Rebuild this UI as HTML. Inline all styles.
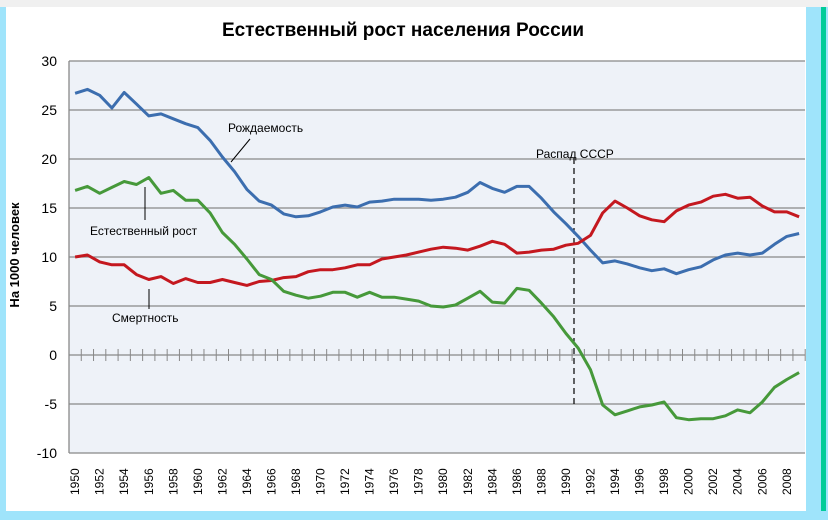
<!DOCTYPE html>
<html><head><meta charset="utf-8"><style>
body{margin:0;width:828px;height:520px;overflow:hidden;background:#fff;font-family:"Liberation Sans","DejaVu Sans",sans-serif}
</style></head><body>
<svg id="s" width="828" height="520" xmlns="http://www.w3.org/2000/svg" style="position:absolute;left:0;top:0">
<rect x="0" y="0" width="828" height="520" fill="#fff"/>
<rect x="0" y="0" width="828" height="7" fill="#f0f0f0"/>
<rect x="0" y="7" width="6" height="513" fill="#9fe4fb"/>
<rect x="806" y="7" width="15" height="513" fill="#9fe4fb"/>
<rect x="821" y="7" width="5" height="513" fill="#00cc99"/>
<rect x="826" y="7" width="2" height="513" fill="#9fe4fb"/>
<rect x="0" y="511" width="828" height="9" fill="#9fe4fb"/>
<rect x="69" y="61" width="736" height="392" fill="#eef2f8"/>
<g stroke="#888" stroke-width="1.3">
<line x1="69" y1="61" x2="805" y2="61"/><line x1="69" y1="110" x2="805" y2="110"/>
<line x1="69" y1="159" x2="805" y2="159"/><line x1="69" y1="208" x2="805" y2="208"/>
<line x1="69" y1="257" x2="805" y2="257"/><line x1="69" y1="306" x2="805" y2="306"/>
<line x1="69" y1="355" x2="805" y2="355"/><line x1="69" y1="404" x2="805" y2="404"/>
<line x1="69" y1="453" x2="805" y2="453"/><line x1="69" y1="61" x2="69" y2="453"/>
</g>
<g id="ticks" stroke="#888" stroke-width="1"></g>
<g font-size="14" fill="#000" text-anchor="end">
<text x="57" y="66">30</text><text x="57" y="115">25</text><text x="57" y="164">20</text>
<text x="57" y="213">15</text><text x="57" y="262">10</text><text x="57" y="311">5</text>
<text x="57" y="360">0</text><text x="57" y="409">-5</text><text x="57" y="458">-10</text>
</g>
<g id="years" font-size="12" fill="#000"></g>
<text x="0" y="0" transform="translate(19,255) rotate(-90)" text-anchor="middle" font-size="13" font-weight="bold">На 1000 человек</text>
<text x="403" y="36" text-anchor="middle" font-size="19" font-weight="bold">Естественный рост населения России</text>
<line x1="574" y1="158" x2="574" y2="408" stroke="#000" stroke-width="1.2" stroke-dasharray="6,4"/>
<text x="536" y="158" font-size="12">Распад СССР</text>
<text x="228" y="132" font-size="12">Рождаемость</text>
<line x1="250" y1="139" x2="231" y2="162" stroke="#000" stroke-width="1"/>
<text x="90" y="235" font-size="12">Естественный рост</text>
<line x1="145" y1="187" x2="145" y2="220" stroke="#000" stroke-width="1"/>
<text x="112" y="322" font-size="12">Смертность</text>
<line x1="149" y1="289" x2="149" y2="309" stroke="#000" stroke-width="1"/>
<polyline id="pb" fill="none" stroke="#3c6eaf" stroke-width="3" stroke-linejoin="round"/>
<polyline id="pd" fill="none" stroke="#c4181f" stroke-width="3" stroke-linejoin="round"/>
<polyline id="pg" fill="none" stroke="#46993a" stroke-width="3" stroke-linejoin="round"/>
</svg>
<script>
var B=[26.7,27.1,26.5,25.2,26.8,25.6,24.4,24.6,24.1,23.6,23.2,21.9,20.2,18.7,16.9,15.7,15.3,14.4,14.1,14.2,14.6,15.1,15.3,15.1,15.6,15.7,15.9,15.9,15.9,15.8,15.9,16.1,16.6,17.6,17.0,16.6,17.2,17.2,16.0,14.6,13.4,12.1,10.7,9.4,9.6,9.3,8.9,8.6,8.8,8.3,8.7,9.0,9.7,10.2,10.4,10.2,10.4,11.3,12.1,12.4];
var D=[10.0,10.2,9.5,9.2,9.2,8.2,7.7,8.0,7.3,7.8,7.4,7.4,7.7,7.4,7.1,7.5,7.6,7.9,8.0,8.5,8.7,8.7,8.9,9.2,9.2,9.8,10.0,10.2,10.5,10.8,11.0,10.9,10.7,11.1,11.6,11.3,10.4,10.5,10.7,10.8,11.2,11.4,12.2,14.5,15.7,15.0,14.2,13.8,13.6,14.7,15.3,15.6,16.2,16.4,16.0,16.1,15.2,14.6,14.6,14.1];
var G=[16.8,17.2,16.5,17.1,17.7,17.4,18.1,16.5,16.8,15.8,15.8,14.5,12.5,11.3,9.8,8.2,7.7,6.5,6.1,5.8,6.0,6.4,6.4,5.9,6.4,5.9,5.9,5.7,5.5,5.0,4.9,5.1,5.8,6.5,5.4,5.3,6.8,6.6,5.3,3.9,2.2,0.7,-1.5,-5.1,-6.1,-5.7,-5.3,-5.1,-4.8,-6.4,-6.6,-6.5,-6.5,-6.2,-5.6,-5.9,-4.8,-3.3,-2.5,-1.8];
var sx=12.27,x0=69;
function X(i){return x0+sx*(i+0.5)}function Y(v){return 355-9.8*v}
function pts(a){return a.map(function(v,i){return X(i).toFixed(1)+","+Y(v).toFixed(1)}).join(" ")}
document.getElementById("pb").setAttribute("points",pts(B));
document.getElementById("pd").setAttribute("points",pts(D));
document.getElementById("pg").setAttribute("points",pts(G));
var ns="http://www.w3.org/2000/svg",t=document.getElementById("ticks");
for(var k=0;k<=60;k++){var l=document.createElementNS(ns,"line");var x=x0+sx*k;l.setAttribute("x1",x);l.setAttribute("x2",x);l.setAttribute("y1",349);l.setAttribute("y2",361);t.appendChild(l);}
var yg=document.getElementById("years");
for(var i=0;i<60;i+=2){var tx=document.createElementNS(ns,"text");var x=X(i)+4;tx.setAttribute("transform","translate("+x+",495) rotate(-90)");tx.textContent=1950+i;yg.appendChild(tx);}
</script>
</body></html>
